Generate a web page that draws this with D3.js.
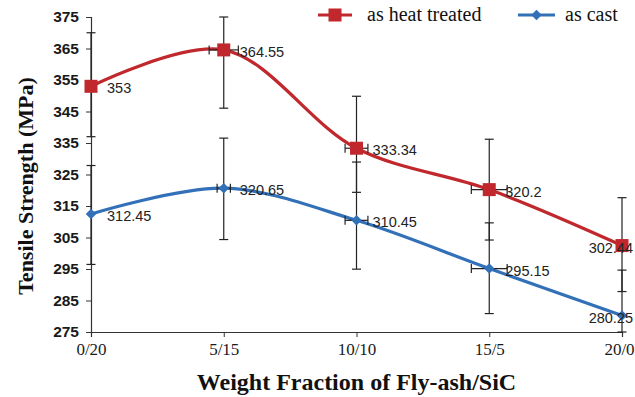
<!DOCTYPE html>
<html>
<head>
<meta charset="utf-8">
<script src="https://cdn.jsdelivr.net/npm/d3@7"></script>
<style>
  html, body { margin: 0; padding: 0; background: #fff; }
  svg { display: block; }
</style>
</head>
<body>
<svg id="chart" width="635" height="397"></svg>
<script>
const categories = ['0/20', '5/15', '10/10', '15/5', '20/0'];
const yTicks = [275, 285, 295, 305, 315, 325, 335, 345, 355, 365, 375];

const heatTreated = [353, 364.55, 333.34, 320.2, 302.44];
const asCast = [312.45, 320.65, 310.45, 295.15, 280.25];

// error bar extents (MPa)
const heatErrUp = [17, 18.5, 16.5, 16, 15.2];
const heatErrDown = [16, 18.5, 14, 16, 14.6];
const castErrUp = [15.4, 15.9, 18.5, 14.5, 14.4];
const castErrDown = [16, 16.3, 15.5, 14.3, 14.4];

// horizontal error bars, in category steps
const heatXErr = [0, 0.11, 0.086, 0.135, 0];
const castXErr = [0, 0.05, 0.086, 0.135, 0];

const series = [
  { name: 'as heat treated', values: heatTreated, up: heatErrUp, down: heatErrDown, xErr: heatXErr, color: '#C0282D', marker: 'square' },
  { name: 'as cast', values: asCast, up: castErrUp, down: castErrDown, xErr: castXErr, color: '#3270B8', marker: 'diamond' }
];

const svg = d3.select('#chart');
const margin = { top: 17, right: 13, bottom: 65, left: 91 };
const W = 635, H = 397;

const x = d3.scalePoint()
  .domain(categories)
  .range([margin.left, W - margin.right]);

const y = d3.scaleLinear()
  .domain([275, 375])
  .range([H - margin.bottom, margin.top]);

const step = x.step();
const axisColor = '#333';

// axes
const yAxis = svg.append('g')
  .attr('transform', `translate(${margin.left},0)`)
  .call(d3.axisLeft(y).tickValues(yTicks).tickSize(5).tickPadding(7));
yAxis.select('.domain').attr('stroke', axisColor).attr('stroke-width', 1.2);
yAxis.selectAll('.tick line').attr('stroke', axisColor);
yAxis.selectAll('.tick text')
  .style('font-family', '"Liberation Sans", Arial, sans-serif')
  .style('font-weight', 'bold')
  .style('font-size', '15.5px')
  .attr('fill', '#1a1a1a');

const xAxis = svg.append('g')
  .attr('transform', `translate(0,${y(275)})`)
  .call(d3.axisBottom(x).tickSize(5).tickPadding(6));
xAxis.select('.domain').attr('stroke', axisColor).attr('stroke-width', 1.2);
xAxis.selectAll('.tick line').attr('stroke', axisColor);
xAxis.selectAll('.tick text')
  .style('font-family', '"Liberation Serif", "Times New Roman", serif')
  .style('font-size', '17px')
  .attr('fill', '#1a1a1a')
  .attr('dx', (d, i) => i === categories.length - 1 ? -3 : 0);

// axis titles
svg.append('text')
  .attr('x', (margin.left + W - margin.right) / 2)
  .attr('y', 390)
  .attr('text-anchor', 'middle')
  .style('font-family', '"Liberation Serif", "Times New Roman", serif')
  .style('font-weight', 'bold')
  .style('font-size', '24px')
  .attr('fill', '#111')
  .text('Weight Fraction of Fly-ash/SiC');

svg.append('text')
  .attr('transform', 'translate(33,186) rotate(-90)')
  .attr('text-anchor', 'middle')
  .style('font-family', '"Liberation Serif", "Times New Roman", serif')
  .style('font-weight', 'bold')
  .style('font-size', '22px')
  .attr('fill', '#111')
  .text('Tensile Strength (MPa)');

// smoothed lines
const line = d3.line()
  .x((d, i) => x(categories[i]))
  .y(d => y(d))
  .curve(d3.curveCatmullRom.alpha(0.5));

series.forEach(s => {
  svg.append('path')
    .datum(s.values)
    .attr('d', line)
    .attr('fill', 'none')
    .attr('stroke', s.color)
    .attr('stroke-width', 3.2);
});

// error bars
const errG = svg.append('g')
  .attr('stroke', '#222')
  .attr('stroke-width', 1.2);
const cap = 4.5;

series.forEach(s => {
  s.values.forEach((v, i) => {
    const cx = x(categories[i]);
    const hi = Math.min(375, v + s.up[i]);
    const lo = Math.max(275, v - s.down[i]);
    errG.append('line').attr('x1', cx).attr('x2', cx).attr('y1', y(hi)).attr('y2', y(lo));
    errG.append('line').attr('x1', cx - cap).attr('x2', cx + cap).attr('y1', y(hi)).attr('y2', y(hi));
    errG.append('line').attr('x1', cx - cap).attr('x2', cx + cap).attr('y1', y(lo)).attr('y2', y(lo));
    if (s.xErr[i] > 0) {
      const dx = s.xErr[i] * step;
      const cy = y(v);
      errG.append('line').attr('x1', cx - dx).attr('x2', cx + dx).attr('y1', cy).attr('y2', cy);
      errG.append('line').attr('x1', cx - dx).attr('x2', cx - dx).attr('y1', cy - cap).attr('y2', cy + cap);
      errG.append('line').attr('x1', cx + dx).attr('x2', cx + dx).attr('y1', cy - cap).attr('y2', cy + cap);
    }
  });
});

// markers
function drawMarker(g, type, cx, cy, color) {
  if (type === 'square') {
    g.append('rect')
      .attr('x', cx - 6.5).attr('y', cy - 6.5)
      .attr('width', 13).attr('height', 13)
      .attr('fill', color);
  } else {
    g.append('path')
      .attr('d', d3.symbol().type(d3.symbolDiamond2).size(70)())
      .attr('transform', `translate(${cx},${cy})`)
      .attr('fill', color);
  }
}

const markerG = svg.append('g');
series.forEach(s => {
  s.values.forEach((v, i) => drawMarker(markerG, s.marker, x(categories[i]), y(v), s.color));
});

// data labels
const labelG = svg.append('g')
  .style('font-family', '"Liberation Sans", Arial, sans-serif')
  .style('font-size', '14.5px')
  .attr('fill', '#222');

series.forEach(s => {
  s.values.forEach((v, i) => {
    const last = i === categories.length - 1;
    labelG.append('text')
      .attr('x', last ? x(categories[i]) + 11 : x(categories[i]) + 16)
      .attr('y', y(v) + 2)
      .attr('dy', '0.35em')
      .attr('text-anchor', last ? 'end' : 'start')
      .text(d3.format('')(v));
  });
});

// legend
const legend = svg.append('g')
  .style('font-family', '"Liberation Serif", "Times New Roman", serif')
  .style('font-size', '20px')
  .attr('fill', '#111');

const legendItems = [
  { s: series[0], x0: 318, x1: 352, tx: 367 },
  { s: series[1], x0: 518, x1: 555, tx: 565 }
];
legendItems.forEach(item => {
  legend.append('line')
    .attr('x1', item.x0).attr('x2', item.x1)
    .attr('y1', 15).attr('y2', 15)
    .attr('stroke', item.s.color)
    .attr('stroke-width', 3);
  drawMarker(legend, item.s.marker, (item.x0 + item.x1) / 2, 15, item.s.color);
  legend.append('text')
    .attr('x', item.tx)
    .attr('y', 21)
    .text(item.s.name);
});
</script>
</body>
</html>
